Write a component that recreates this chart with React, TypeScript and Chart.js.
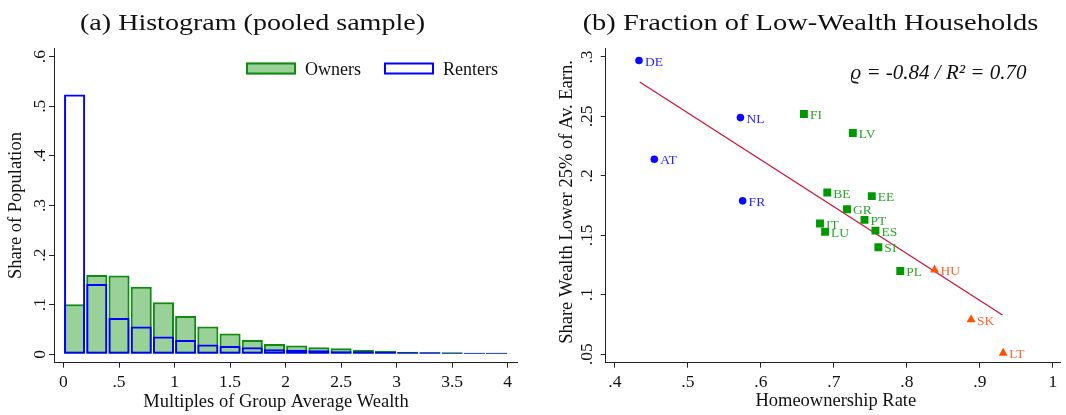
import React, { useEffect, useRef } from "react";
import { Chart, registerables } from "chart.js";

Chart.register(...registerables);

// ---------- Panel (a): histogram of wealth multiples ----------
const binEdges = [0, 0.2, 0.4, 0.6, 0.8, 1.0, 1.2, 1.4, 1.6, 1.8, 2.0, 2.2, 2.4, 2.6, 2.8, 3.0, 3.2, 3.4, 3.6, 3.8, 4.0];
const ownersShare = [0.101, 0.160, 0.159, 0.136, 0.105, 0.077, 0.056, 0.042, 0.029, 0.021, 0.018, 0.014, 0.012, 0.009, 0.007, 0.005, 0.004, 0.004, 0.003, 0.003];
const rentersShare = [0.524, 0.142, 0.073, 0.056, 0.036, 0.029, 0.020, 0.017, 0.014, 0.010, 0.009, 0.008, 0.006, 0.006, 0.005, 0.004, 0.004, 0.003, 0.003, 0.003];
const histXTicks = [0, 0.5, 1, 1.5, 2, 2.5, 3, 3.5, 4];
const histXTickLabels = ["0", ".5", "1", "1.5", "2", "2.5", "3", "3.5", "4"];
const histYTicks = [0, 0.1, 0.2, 0.3, 0.4, 0.5, 0.6];
const histYTickLabels = ["0", ".1", ".2", ".3", ".4", ".5", ".6"];
const histSeriesNames = ["Owners", "Renters"];

// ---------- Panel (b): homeownership vs. low-wealth share ----------
const blueCountries = ["DE", "NL", "AT", "FR"];
const blueOwnership = [0.433, 0.572, 0.454, 0.575];
const blueLowWealth = [0.297, 0.249, 0.214, 0.179];

const greenCountries = ["FI", "LV", "BE", "EE", "GR", "PT", "IT", "LU", "ES", "SI", "PL"];
const greenOwnership = [0.659, 0.726, 0.691, 0.752, 0.718, 0.742, 0.681, 0.688, 0.757, 0.761, 0.791];
const greenLowWealth = [0.252, 0.236, 0.186, 0.183, 0.172, 0.163, 0.160, 0.153, 0.154, 0.140, 0.120];

const orangeCountries = ["HU", "SK", "LT"];
const orangeOwnership = [0.838, 0.888, 0.932];
const orangeLowWealth = [0.121, 0.079, 0.051];

const fitOwnership = [0.434, 0.931];
const fitLowWealth = [0.279, 0.083];

const scatterXTicks = [0.4, 0.5, 0.6, 0.7, 0.8, 0.9, 1.0];
const scatterXTickLabels = [".4", ".5", ".6", ".7", ".8", ".9", "1"];
const scatterYTicks = [0.05, 0.1, 0.15, 0.2, 0.25, 0.3];
const scatterYTickLabels = [".05", ".1", ".15", ".2", ".25", ".3"];
const corrText = "\u03F1 = -0.84 / R\u00B2 = 0.70";

// ---------- styling ----------
const SERIF = '"Liberation Serif", "Times New Roman", serif';
const INK = "#111111";
const OWN_FILL = "rgba(0, 140, 0, 0.4)";
const OWN_LINE = "#118a11";
const RENT_LINE = "#0000ff";
const BLUE = "#0a0aff";
const BLUE_TXT = "#2626ff";
const GREEN = "#009a00";
const GREEN_TXT = "#2aa52a";
const ORANGE = "#ff5200";
const ORANGE_TXT = "#ff6530";
const FIT = "#c8143c";

const W = 533;
const H = 415;

function drawRotated(ctx: CanvasRenderingContext2D, text: string, x: number, y: number, font: string, color: string) {
  ctx.save();
  ctx.translate(x, y);
  ctx.rotate(-Math.PI / 2);
  ctx.font = font;
  ctx.fillStyle = color;
  ctx.textAlign = "center";
  ctx.textBaseline = "alphabetic";
  ctx.fillText(text, 0, 0);
  ctx.restore();
}

// Panel heading: a roman face at a fixed height, widened to the given span.
function drawPanelTitle(ctx: CanvasRenderingContext2D, text: string, cx: number, baseline: number, targetWidth: number) {
  ctx.save();
  ctx.font = `22.7px ${SERIF}`;
  const w = ctx.measureText(text).width;
  ctx.translate(cx, baseline);
  ctx.scale(targetWidth / w, 1);
  ctx.fillStyle = INK;
  ctx.textAlign = "center";
  ctx.textBaseline = "alphabetic";
  ctx.fillText(text, 0, 0);
  ctx.restore();
}

// Draws rotated y tick labels, panel title, axis titles and other annotations.
const panelTextPlugin = {
  id: "panelText",
  afterDraw(chart: any, _args: any, opts: any) {
    const ctx: CanvasRenderingContext2D = chart.ctx;
    const yScale = chart.scales.y;
    const tickFont = `17.5px ${SERIF}`;
    opts.yTicks.forEach((v: number, i: number) => {
      drawRotated(ctx, opts.yTickLabels[i], opts.yTickBaseline, yScale.getPixelForValue(v), tickFont, INK);
    });
    const area = chart.chartArea;
    drawRotated(ctx, opts.yTitle, opts.yTitleBaseline, (area.top + area.bottom) / 2 + opts.yTitleShift, `18.5px ${SERIF}`, INK);
    ctx.save();
    ctx.font = `18.5px ${SERIF}`;
    ctx.fillStyle = INK;
    ctx.textAlign = "center";
    ctx.textBaseline = "alphabetic";
    ctx.fillText(opts.xTitle, opts.xTitleCenter, opts.xTitleBaseline);
    ctx.restore();
    drawPanelTitle(ctx, opts.title, opts.titleCenter, 30, opts.titleWidth);
    if (opts.note) {
      ctx.save();
      ctx.font = `italic 21px ${SERIF}`;
      ctx.fillStyle = INK;
      ctx.textAlign = "center";
      ctx.textBaseline = "alphabetic";
      ctx.fillText(opts.note, opts.noteX, opts.noteY);
      ctx.restore();
    }
  },
};

// Legend drawn inside the plot region of the histogram.
const histLegendPlugin = {
  id: "histLegend",
  afterDraw(chart: any) {
    const ctx: CanvasRenderingContext2D = chart.ctx;
    const ds = chart.data.datasets;
    let x = 246;
    const top = 62.5;
    ctx.save();
    ctx.font = `18px ${SERIF}`;
    ctx.textBaseline = "alphabetic";
    ctx.textAlign = "left";
    ds.forEach((d: any, i: number) => {
      ctx.fillStyle = d.backgroundColor;
      ctx.fillRect(x, top, 50, 12);
      ctx.lineWidth = 2;
      ctx.strokeStyle = d.borderColor;
      ctx.strokeRect(x + 1, top + 1, 48, 10);
      ctx.fillStyle = INK;
      ctx.fillText(histSeriesNames[i], x + 59, top + 12.5);
      x += 59 + ctx.measureText(histSeriesNames[i]).width + 23;
    });
    ctx.restore();
  },
};

// Country codes next to each scatter marker.
const countryTagPlugin = {
  id: "countryTags",
  afterDatasetsDraw(chart: any) {
    const ctx: CanvasRenderingContext2D = chart.ctx;
    chart.data.datasets.forEach((ds: any, i: number) => {
      if (!ds.countryLabels) return;
      const meta = chart.getDatasetMeta(i);
      ctx.save();
      ctx.font = `13.5px ${SERIF}`;
      ctx.fillStyle = ds.labelColor;
      ctx.textAlign = "left";
      ctx.textBaseline = "middle";
      meta.data.forEach((el: any, j: number) => {
        ctx.fillText(ds.countryLabels[j], el.x + 6, el.y + 1.5);
      });
      ctx.restore();
    });
  },
};

function axisBase() {
  return {
    grid: { display: true, drawOnChartArea: false, drawTicks: true, tickLength: 5, color: "#222", lineWidth: 1 },
    border: { display: true, color: "#222", width: 1 },
  };
}

function histConfig(): any {
  const centers = ownersShare.map((_, i) => (binEdges[i] + binEdges[i + 1]) / 2);
  const barCommon = { borderWidth: 2, borderSkipped: false, grouped: false, barPercentage: 0.95, categoryPercentage: 1 };
  return {
    type: "bar",
    data: {
      datasets: [
        { label: histSeriesNames[0], data: ownersShare.map((v, i) => ({ x: centers[i], y: v })), backgroundColor: OWN_FILL, borderColor: OWN_LINE, order: 1, ...barCommon },
        { label: histSeriesNames[1], data: rentersShare.map((v, i) => ({ x: centers[i], y: v })), backgroundColor: "rgba(0,0,0,0)", borderColor: RENT_LINE, order: 0, ...barCommon },
      ],
    },
    options: {
      responsive: false,
      animation: false,
      events: [],
      devicePixelRatio: 1,
      layout: { padding: { top: 48.3, right: 16, bottom: 0, left: 0 } },
      plugins: {
        legend: { display: false },
        tooltip: { enabled: false },
        panelText: {
          yTicks: histYTicks,
          yTickLabels: histYTickLabels,
          yTickBaseline: 45,
          yTitle: "Share of Population",
          yTitleBaseline: 21,
          yTitleShift: 0,
          xTitle: "Multiples of Group Average Wealth",
          xTitleCenter: 276,
          xTitleBaseline: 406.5,
          title: "(a) Histogram (pooled sample)",
          titleCenter: 252.5,
          titleWidth: 345,
        },
      },
      scales: {
        x: {
          type: "linear",
          min: -0.0855,
          max: 4.084,
          offset: false,
          afterBuildTicks: (s: any) => { s.ticks = histXTicks.map((v) => ({ value: v })); },
          afterFit: (s: any) => { s.height = 52.3; },
          ticks: {
            autoSkip: false, maxRotation: 0, padding: 4, color: INK,
            font: { family: SERIF, size: 17.5 },
            callback: (_v: any, i: number) => histXTickLabels[i],
          },
          ...axisBase(),
          grid: { ...axisBase().grid, offset: false },
        },
        y: {
          type: "linear",
          min: -0.0169,
          max: 0.6169,
          afterBuildTicks: (s: any) => { s.ticks = histYTicks.map((v) => ({ value: v })); },
          afterFit: (s: any) => { s.width = 54; },
          ticks: { display: false },
          ...axisBase(),
        },
      },
    },
    plugins: [panelTextPlugin, histLegendPlugin],
  };
}

function scatterConfig(): any {
  const groups = [
    { names: blueCountries, xs: blueOwnership, ys: blueLowWealth, style: "circle", radius: 3.8, color: BLUE, text: BLUE_TXT },
    { names: greenCountries, xs: greenOwnership, ys: greenLowWealth, style: "rect", radius: 5.6, color: GREEN, text: GREEN_TXT },
    { names: orangeCountries, xs: orangeOwnership, ys: orangeLowWealth, style: "triangle", radius: 5.2, color: ORANGE, text: ORANGE_TXT },
  ];
  return {
    type: "scatter",
    data: {
      datasets: [
        ...groups.map((g) => ({
          type: "scatter",
          data: g.xs.map((x, i) => ({ x, y: g.ys[i] })),
          pointStyle: g.style,
          pointRadius: g.radius,
          backgroundColor: g.color,
          borderWidth: 0,
          countryLabels: g.names,
          labelColor: g.text,
          order: 0,
        })),
        {
          type: "line",
          data: fitOwnership.map((x, i) => ({ x, y: fitLowWealth[i] })),
          borderColor: FIT,
          borderWidth: 1.3,
          pointRadius: 0,
          fill: false,
          tension: 0,
          order: 5,
        },
      ],
    },
    options: {
      responsive: false,
      animation: false,
      events: [],
      devicePixelRatio: 1,
      layout: { padding: { top: 48.3, right: 0, bottom: 0, left: 0 } },
      plugins: {
        legend: { display: false },
        tooltip: { enabled: false },
        panelText: {
          yTicks: scatterYTicks,
          yTickLabels: scatterYTickLabels,
          yTickBaseline: 58.5,
          yTitle: "Share Wealth Lower 25% of Av. Earn.",
          yTitleBaseline: 39,
          yTitleShift: -3.5,
          xTitle: "Homeownership Rate",
          xTitleCenter: 302.8,
          xTitleBaseline: 405.5,
          title: "(b) Fraction of Low-Wealth Households",
          titleCenter: 277.5,
          titleWidth: 455.7,
          note: corrText,
          noteX: 405.5,
          noteY: 78.5,
        },
      },
      scales: {
        x: {
          type: "linear",
          min: 0.3874,
          max: 1.0104,
          afterBuildTicks: (s: any) => { s.ticks = scatterXTicks.map((v) => ({ value: v })); },
          afterFit: (s: any) => { s.height = 52.3; },
          ticks: {
            autoSkip: false, maxRotation: 0, padding: 4, color: INK,
            font: { family: SERIF, size: 17.5 },
            callback: (_v: any, i: number) => scatterXTickLabels[i],
          },
          ...axisBase(),
        },
        y: {
          type: "linear",
          min: 0.0429,
          max: 0.3073,
          afterBuildTicks: (s: any) => { s.ticks = scatterYTicks.map((v) => ({ value: v })); },
          afterFit: (s: any) => { s.width = 72.7; },
          ticks: { display: false },
          ...axisBase(),
        },
      },
    },
    plugins: [panelTextPlugin, countryTagPlugin],
  };
}

function Panel({ make, left }: { make: () => any; left: number }) {
  const ref = useRef<HTMLCanvasElement>(null);
  useEffect(() => {
    if (!ref.current) return;
    const chart = new Chart(ref.current, make());
    return () => chart.destroy();
  }, [make]);
  return (
    <canvas
      ref={ref}
      width={W}
      height={H}
      style={{ position: "absolute", left, top: 0, width: W, height: H }}
    />
  );
}

export default function App() {
  return (
    <div style={{ position: "absolute", left: 0, top: 0, width: 1066, height: 415, background: "#ffffff", overflow: "hidden" }}>
      <Panel make={histConfig} left={0} />
      <Panel make={scatterConfig} left={533} />
    </div>
  );
}
